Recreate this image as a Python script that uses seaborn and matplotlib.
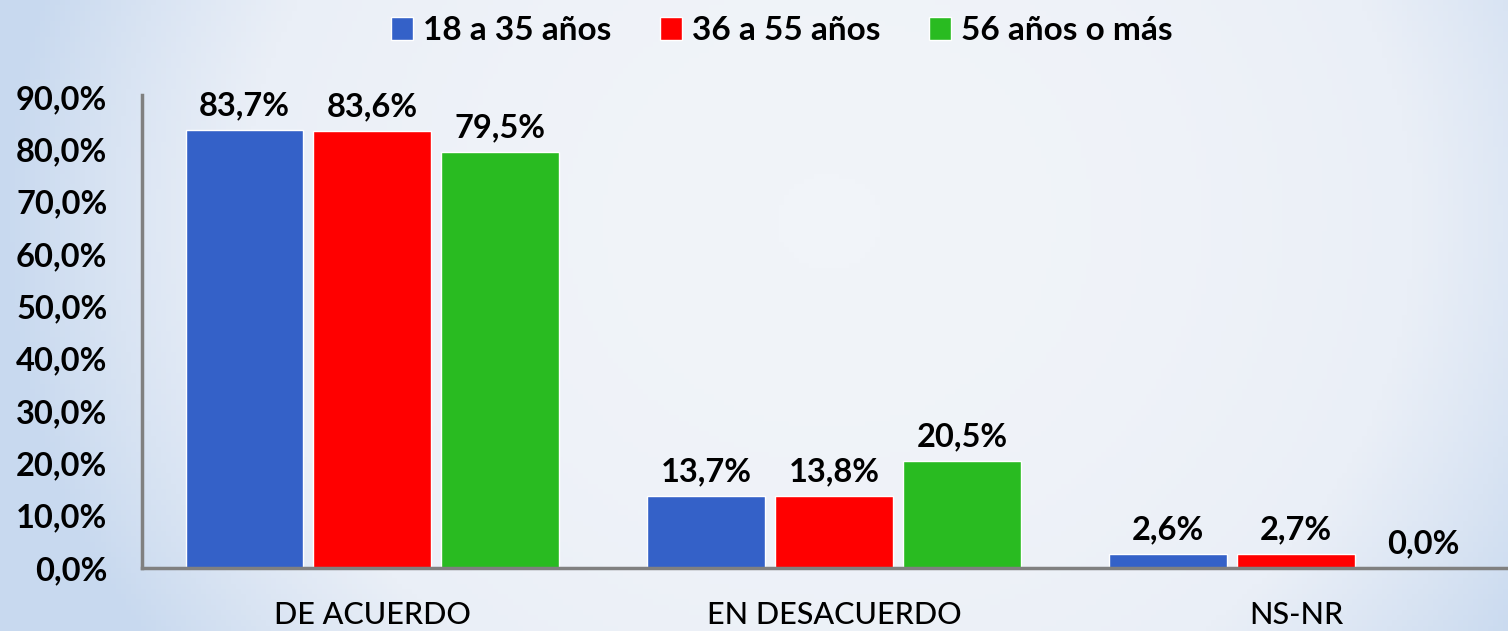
import numpy as np
import pandas as pd
import matplotlib
matplotlib.use("Agg")
import matplotlib.pyplot as plt
from matplotlib.colors import LinearSegmentedColormap
from matplotlib.ticker import FuncFormatter
import seaborn as sns

# Datos
categorias = ["DE ACUERDO", "EN DESACUERDO", "NS-NR"]
grupos = ["18 a 35 años", "36 a 55 años", "56 años o más"]
jovenes = [83.7, 13.7, 2.6]
adultos = [83.6, 13.8, 2.7]
mayores = [79.5, 20.5, 0.0]

colores = {"18 a 35 años": "#3461c8", "36 a 55 años": "#ff0000", "56 años o más": "#29bb21"}

df = pd.DataFrame({
    "categoria": categorias * 3,
    "grupo": [g for g in grupos for _ in categorias],
    "valor": jovenes + adultos + mayores,
})

sns.set_style("white")
plt.rcParams["font.family"] = ["Lato", "DejaVu Sans"]
plt.rcParams["text.color"] = "black"
plt.rcParams["xtick.color"] = "black"
plt.rcParams["ytick.color"] = "black"

fig = plt.figure(figsize=(15.08, 6.31), dpi=100)

# Fondo degradado
fondo = fig.add_axes([0, 0, 1, 1], zorder=-10)
xx, yy = np.meshgrid(np.linspace(0, 1, 300), np.linspace(0, 1, 120))
dist = np.clip(((xx - 0.55) / 0.55) ** 2 + ((yy - 0.35) / 1.2) ** 2, 0, 1)
cmap_fondo = LinearSegmentedColormap.from_list("fondo", ["#f1f4f9", "#eaeff7", "#c8d9ef"])
fondo.imshow(dist, cmap=cmap_fondo, aspect="auto", extent=[0, 1, 0, 1], vmin=0, vmax=1)
fondo.axis("off")

ax = fig.add_axes([0.0942, 0.0998, 0.9058, 0.7496])
ax.patch.set_alpha(0)

sns.barplot(
    data=df, x="categoria", y="valor", hue="grupo",
    order=categorias, hue_order=grupos, palette=colores,
    width=0.83, gap=0.08, saturation=1, ax=ax,
)

for cont in ax.containers:
    etiquetas = [f"{b.get_height():.1f}%".replace(".", ",") for b in cont]
    ax.bar_label(cont, labels=etiquetas, padding=7, fontsize=23.5, fontweight="bold", color="black")

ax.set_ylim(0, 90.4)
ax.set_xlim(-0.498, 2.459)
ax.set_yticks(np.arange(0, 91, 10))
ax.yaxis.set_major_formatter(FuncFormatter(lambda v, p: f"{v:.1f}%".replace(".", ",")))
ax.tick_params(axis="y", labelsize=23.5, length=0, pad=25)
ax.tick_params(axis="x", labelsize=22, length=0, pad=24)
for lab in ax.get_yticklabels():
    lab.set_fontweight("bold")
for lab in ax.get_xticklabels():
    lab.set_fontweight("medium")
ax.set_xlabel("")
ax.set_ylabel("")

for lado in ["top", "right"]:
    ax.spines[lado].set_visible(False)
for lado in ["left", "bottom"]:
    ax.spines[lado].set_color("#808080")
    ax.spines[lado].set_linewidth(2.5)

handles, labels = ax.get_legend_handles_labels()
ax.legend_.remove()
fig.legend(
    handles, labels, loc="center", bbox_to_anchor=(0.5186, 0.951), ncol=3,
    frameon=False, handlelength=0.66, handleheight=0.66, handletextpad=0.3,
    columnspacing=1.45, prop={"size": 24, "weight": "bold"},
)

fig.savefig("out.png", dpi=100)
